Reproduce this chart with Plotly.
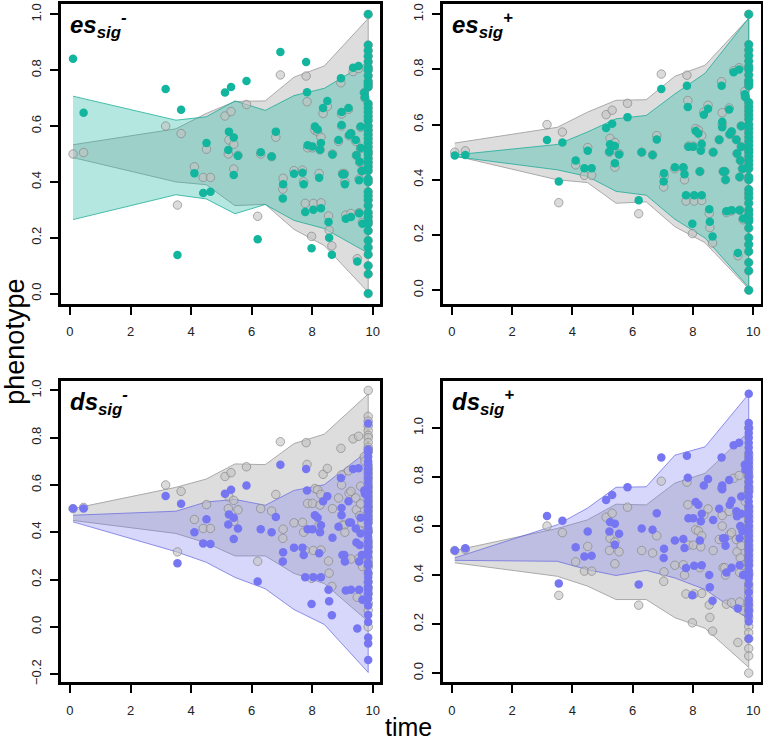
import plotly.graph_objects as go

# ---------------- data ----------------
node_t = [0.1, 0.45, 3.16, 3.55, 3.67, 4.11, 4.4, 4.51, 4.64, 5.12, 5.32, 5.25, 5.23, 5.41, 5.41, 5.55,
          5.83, 6.2, 6.3, 6.66, 6.8, 6.95, 7.03, 7.04, 7.4, 7.68, 7.72, 7.8, 7.83, 7.77, 7.98, 7.85,
          8.01, 8.04, 8.09, 8.18, 8.23, 8.26, 8.29, 8.29, 8.36, 8.5, 8.54, 8.56, 8.65, 8.67, 8.95, 8.97,
          8.97, 9.0, 9.06, 8.87, 9.08, 9.11, 9.2, 9.22, 9.28, 9.28, 9.35, 9.44, 9.46, 9.49, 9.53, 9.55,
          9.55, 9.57, 9.6, 9.6, 9.64, 9.66, 9.72, 9.74]

grey_nodes = [0.50, 0.505, 0.60, 0.317, 0.573, 0.454, 0.416, 0.517, 0.416, 0.636, 0.652, 0.55, 0.50, 0.535, 0.446, 0.495,
              0.677, 0.277, 0.50, 0.49, 0.56, 0.783, 0.374, 0.413, 0.44, 0.442, 0.40, 0.779, 0.687, 0.323, 0.205, 0.522,
              0.522, 0.323, 0.585, 0.58, 0.43, 0.515, 0.56, 0.325, 0.645, 0.67, 0.278, 0.227, 0.171, 0.50, 0.755, 0.643,
              0.60, 0.43, 0.43, 0.545, 0.40, 0.281, 0.66, 0.565, 0.573, 0.287, 0.795, 0.545, 0.495, 0.125, 0.806, 0.29,
              0.41, 0.47, 0.595, 0.52, 0.44, 0.255, 0.72, 0.70]

es_minus_nodes = [0.841, 0.648, 0.733, 0.138, 0.658, 0.431, 0.36, 0.539, 0.365, 0.72, 0.74, 0.58, 0.514, 0.559, 0.425, 0.494,
                  0.761, 0.195, 0.506, 0.491, 0.58, 0.865, 0.341, 0.392, 0.429, 0.433, 0.392, 0.829, 0.721, 0.292, 0.162, 0.531,
                  0.527, 0.3, 0.598, 0.588, 0.415, 0.515, 0.539, 0.306, 0.665, 0.69, 0.256, 0.2, 0.139, 0.498, 0.771, 0.65,
                  0.604, 0.427, 0.427, 0.55, 0.392, 0.268, 0.665, 0.568, 0.574, 0.274, 0.809, 0.55, 0.495, 0.115, 0.815, 0.288,
                  0.406, 0.472, 0.598, 0.521, 0.439, 0.25, 0.719, 0.703]

es_plus_nodes = [0.488, 0.49, 0.544, 0.394, 0.535, 0.47, 0.442, 0.505, 0.442, 0.588, 0.603, 0.529, 0.502, 0.522, 0.46, 0.492,
                 0.627, 0.326, 0.50, 0.49, 0.546, 0.729, 0.394, 0.424, 0.445, 0.445, 0.42, 0.741, 0.664, 0.344, 0.241, 0.52,
                 0.52, 0.344, 0.577, 0.568, 0.43, 0.505, 0.53, 0.344, 0.636, 0.657, 0.293, 0.248, 0.194, 0.50, 0.741, 0.61,
                 0.59, 0.43, 0.43, 0.545, 0.40, 0.286, 0.655, 0.565, 0.575, 0.29, 0.79, 0.545, 0.495, 0.135, 0.80, 0.29,
                 0.41, 0.47, 0.595, 0.52, 0.44, 0.26, 0.71, 0.70]

ds_minus_nodes = [0.5, 0.5, 0.553, 0.269, 0.521, 0.4, 0.353, 0.455, 0.35, 0.563, 0.58, 0.475, 0.433, 0.461, 0.371, 0.416,
                  0.598, 0.192, 0.413, 0.4, 0.465, 0.686, 0.276, 0.315, 0.335, 0.335, 0.304, 0.668, 0.577, 0.21, 0.097, 0.413,
                  0.413, 0.21, 0.472, 0.461, 0.311, 0.4, 0.43, 0.21, 0.531, 0.552, 0.157, 0.108, 0.049, 0.377, 0.629, 0.503,
                  0.472, 0.304, 0.304, 0.423, 0.276, 0.154, 0.531, 0.441, 0.441, 0.157, 0.668, 0.416, 0.357, -0.007, 0.671, 0.157,
                  0.276, 0.346, 0.461, 0.395, 0.304, 0.115, 0.577, 0.563]

ds_plus_nodes = [0.50, 0.509, 0.641, 0.365, 0.622, 0.513, 0.476, 0.578, 0.479, 0.706, 0.727, 0.616, 0.578, 0.609, 0.524, 0.568,
                 0.758, 0.361, 0.59, 0.585, 0.652, 0.88, 0.47, 0.507, 0.541, 0.547, 0.51, 0.887, 0.797, 0.429, 0.318, 0.632,
                 0.632, 0.438, 0.698, 0.687, 0.541, 0.62, 0.65, 0.44, 0.765, 0.792, 0.40, 0.35, 0.295, 0.625, 0.88, 0.765,
                 0.75, 0.55, 0.55, 0.67, 0.52, 0.41, 0.788, 0.687, 0.703, 0.43, 0.93, 0.66, 0.64, 0.263, 0.94, 0.44,
                 0.55, 0.60, 0.72, 0.65, 0.58, 0.40, 0.85, 0.83]

tip_time = 9.85
ref_tips = [1.0, 0.89, 0.87, 0.85, 0.83, 0.81, 0.80, 0.78, 0.76, 0.75, 0.74, 0.68, 0.665, 0.65, 0.635, 0.62, 0.60,
            0.585, 0.57, 0.555, 0.54, 0.525, 0.51, 0.50, 0.485, 0.47, 0.455, 0.44, 0.41, 0.40, 0.365, 0.35, 0.335,
            0.315, 0.29, 0.275, 0.26, 0.25, 0.225, 0.19, 0.165, 0.14, 0.10, 0.07, 0.0]
ds_minus_tips = [0.86, 0.75, 0.74, 0.72, 0.70, 0.69, 0.67, 0.65, 0.63, 0.61, 0.59, 0.57, 0.55, 0.53, 0.51, 0.49, 0.47,
                 0.455, 0.44, 0.42, 0.40, 0.38, 0.36, 0.34, 0.32, 0.30, 0.27, 0.26, 0.23, 0.21, 0.19, 0.17, 0.155, 0.14,
                 0.12, 0.09, 0.05, 0.02, -0.045, -0.07, -0.14]
ds_plus_tips = [1.14, 1.02, 1.0, 0.98, 0.96, 0.94, 0.92, 0.90, 0.88, 0.86, 0.84, 0.82, 0.80, 0.78, 0.76, 0.74, 0.72,
                0.70, 0.68, 0.66, 0.64, 0.62, 0.60, 0.58, 0.56, 0.54, 0.52, 0.50, 0.48, 0.46, 0.44, 0.42, 0.40, 0.385,
                0.36, 0.33, 0.30, 0.28, 0.255, 0.235, 0.21, 0.14]

band_t = [0.1, 3.5, 4.5, 5.45, 6.45, 7.4, 8.4, 9.85]
grey_top_upper = [0.533, 0.59, 0.645, 0.688, 0.69, 0.775, 0.815, 0.985]
grey_top_lower = [0.487, 0.40, 0.39, 0.315, 0.32, 0.23, 0.172, 0.005]
grey_bot_upper = [0.50, 0.59, 0.625, 0.689, 0.686, 0.775, 0.815, 0.985]
grey_bot_lower = [0.45, 0.395, 0.355, 0.30, 0.30, 0.226, 0.183, 0.023]
es_minus_upper = [0.707, 0.621, 0.633, 0.69, 0.656, 0.709, 0.735, 0.829]
es_minus_lower = [0.265, 0.354, 0.339, 0.286, 0.319, 0.262, 0.233, 0.145]
es_plus_upper = [0.49, 0.528, 0.573, 0.621, 0.633, 0.711, 0.786, 0.986]
es_plus_lower = [0.484, 0.436, 0.412, 0.358, 0.344, 0.257, 0.189, 0.01]
ds_minus_upper = [0.472, 0.489, 0.528, 0.539, 0.514, 0.577, 0.601, 0.745]
ds_minus_lower = [0.444, 0.318, 0.273, 0.209, 0.161, 0.073, 0.01, -0.193]
ds_plus_upper = [0.47, 0.605, 0.673, 0.758, 0.76, 0.889, 0.923, 1.139]
ds_plus_lower = [0.46, 0.456, 0.422, 0.398, 0.419, 0.388, 0.341, 0.22]

panel_labels = ["es<sub>sig</sub><sup>-</sup>", "es<sub>sig</sub><sup>+</sup>",
                "ds<sub>sig</sub><sup>-</sup>", "ds<sub>sig</sub><sup>+</sup>"]
x_ticks = [0, 2, 4, 6, 8, 10]

# ---------------- styling ----------------
TEAL = "#12B59D"
BLUE = "#7676F2"
teal_fill = "rgba(20,180,160,0.32)"
teal_line = "rgba(20,170,150,0.75)"
blue_fill = "rgba(110,110,240,0.28)"
blue_line = "rgba(100,100,225,0.7)"
grey_fill = "rgba(175,175,175,0.42)"
grey_line = "#A9A9A9"
FONT = "Liberation Sans, Arial"

fig = go.Figure()

panels = [
    dict(ax="", grey=(grey_top_upper, grey_top_lower), band=(es_minus_upper, es_minus_lower), fill=teal_fill,
         line=teal_line, col=TEAL, nodes=es_minus_nodes, tips=ref_tips, yr=[-0.037, 1.037],
         yt=[0, 0.2, 0.4, 0.6, 0.8, 1.0], xd=[61.2, 380], yd=[2, 304]),
    dict(ax="2", grey=(grey_top_upper, grey_top_lower), band=(es_plus_upper, es_plus_lower), fill=teal_fill,
         line=teal_line, col=TEAL, nodes=es_plus_nodes, tips=ref_tips, yr=[-0.05, 1.037],
         yt=[0, 0.2, 0.4, 0.6, 0.8, 1.0], xd=[443, 760.5], yd=[2, 304]),
    dict(ax="3", grey=(grey_bot_upper, grey_bot_lower), band=(ds_minus_upper, ds_minus_lower), fill=blue_fill,
         line=blue_line, col=BLUE, nodes=ds_minus_nodes, tips=ds_minus_tips, yr=[-0.235, 1.038],
         yt=[-0.2, 0, 0.2, 0.4, 0.6, 0.8, 1.0], xd=[61.2, 380], yd=[382, 685]),
    dict(ax="4", grey=(grey_bot_upper, grey_bot_lower), band=(ds_plus_upper, ds_plus_lower), fill=blue_fill,
         line=blue_line, col=BLUE, nodes=ds_plus_nodes, tips=ds_plus_tips, yr=[-0.038, 1.19],
         yt=[0, 0.2, 0.4, 0.6, 0.8, 1.0], xd=[443, 760.5], yd=[382, 685]),
]

W, H = 763, 742
layout = {}
for i, p in enumerate(panels):
    xa, ya = "x" + p["ax"], "y" + p["ax"]
    gu, gl = p["grey"]
    bu, bl = p["band"]
    poly_t = band_t + band_t[::-1]
    fig.add_trace(go.Scatter(x=poly_t, y=gu + gl[::-1], xaxis=xa, yaxis=ya, fill="toself",
                             fillcolor=grey_fill, mode="lines", line=dict(color=grey_line, width=1),
                             hoverinfo="skip", showlegend=False))
    fig.add_trace(go.Scatter(x=poly_t, y=bu + bl[::-1], xaxis=xa, yaxis=ya, fill="toself",
                             fillcolor=p["fill"], mode="lines", line=dict(color=p["line"], width=1),
                             hoverinfo="skip", showlegend=False))
    fig.add_trace(go.Scatter(x=node_t + [tip_time] * len(ref_tips), y=grey_nodes + ref_tips,
                             xaxis=xa, yaxis=ya, mode="markers",
                             marker=dict(size=8.5, color="rgba(195,195,195,0.6)",
                                         line=dict(color="rgba(130,130,130,0.65)", width=1)),
                             showlegend=False))
    fig.add_trace(go.Scatter(x=node_t + [tip_time] * len(p["tips"]), y=p["nodes"] + p["tips"],
                             xaxis=xa, yaxis=ya, mode="markers",
                             marker=dict(size=8.5, color=p["col"], line=dict(width=0)),
                             showlegend=False))
    axis_common = dict(showline=True, linecolor="black", linewidth=2.5, mirror=True, showgrid=False,
                       zeroline=False, ticks="outside", ticklen=8, tickwidth=2, tickcolor="black",
                       tickfont=dict(family=FONT, size=13, color="#222"))
    xkey = "xaxis" + p["ax"]
    ykey = "yaxis" + p["ax"]
    layout[xkey] = dict(axis_common, range=[-0.29, 10.24], tickvals=x_ticks,
                        domain=[p["xd"][0] / W, p["xd"][1] / W], anchor=ya, ticklabelstandoff=6)
    layout[ykey] = dict(axis_common, range=p["yr"], tickvals=p["yt"], tickformat=".1f", tickangle=-90,
                        domain=[1 - p["yd"][1] / H, 1 - p["yd"][0] / H], anchor=xa, ticklabelstandoff=4)

annotations = []
for i, p in enumerate(panels):
    annotations.append(dict(text="<b><i>" + panel_labels[i] + "</i></b>", xref="paper", yref="paper",
                            x=(p["xd"][0] + 7) / W, y=1 - (p["yd"][0] + 2) / H, xanchor="left", yanchor="top",
                            showarrow=False, font=dict(family=FONT, size=24, color="black")))
annotations.append(dict(text="phenotype", xref="paper", yref="paper", x=15 / W, y=1 - 342 / H,
                        textangle=-90, showarrow=False, xanchor="center", yanchor="middle",
                        font=dict(family=FONT, size=27, color="black")))
annotations.append(dict(text="time", xref="paper", yref="paper", x=408 / W, y=-4 / H,
                        showarrow=False, xanchor="center", yanchor="bottom",
                        font=dict(family=FONT, size=25, color="black")))

fig.update_layout(width=W, height=H, margin=dict(l=0, r=0, t=0, b=0), plot_bgcolor="white",
                  paper_bgcolor="white", showlegend=False, annotations=annotations, **layout)

fig.write_html("out.html", config={"displayModeBar": False},
               post_script="document.body.style.margin='0';document.body.style.padding='0';"
                           "document.body.style.overflow='hidden';")
